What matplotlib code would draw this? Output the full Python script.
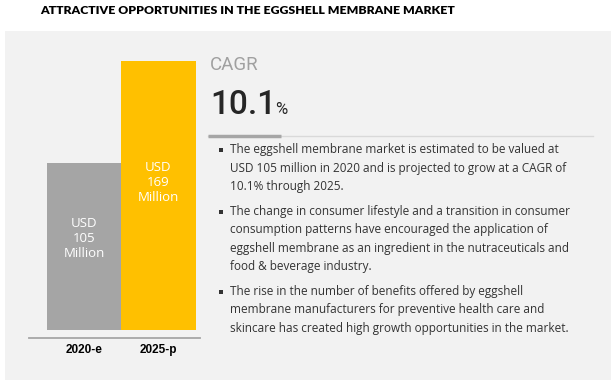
import matplotlib
matplotlib.use("Agg")
import matplotlib.pyplot as plt
from matplotlib.patches import Rectangle
from matplotlib.lines import Line2D

W, H = 612, 383

title = "ATTRACTIVE OPPORTUNITIES IN THE EGGSHELL MEMBRANE MARKET"
categories = ["2020-e", "2025-p"]
values = [105, 169]
bar_labels = ["USD\n105\nMillion", "USD\n169\nMillion"]
bar_colors = ["#A5A5A5", "#FFC000"]
cagr_label = "CAGR"
cagr_value = "10.1"
bullets = [
    ["The eggshell membrane market is estimated to be valued at",
     "USD 105 million in 2020 and is projected to grow at a CAGR of",
     "10.1% through 2025."],
    ["The change in consumer lifestyle and a transition in consumer",
     "consumption patterns have encouraged the application of",
     "eggshell membrane as an ingredient in the nutraceuticals and",
     "food & beverage industry."],
    ["The rise in the number of benefits offered by eggshell",
     "membrane manufacturers for preventive health care and",
     "skincare has created high growth opportunities in the market."],
]

def fx(x):
    return x / W

def fy(y):
    return 1 - y / H

fig = plt.figure(figsize=(W / 100, H / 100), dpi=100)
fig.patch.set_facecolor("white")

# background panel
fig.add_artist(Rectangle((fx(5), fy(380)), fx(606), (380 - 31) / H,
                         transform=fig.transFigure, facecolor="#F2F2F2",
                         edgecolor="none", zorder=-5))

fig.text(fx(247.5), fy(11), title, ha="center", va="center",
         fontsize=8.8, fontweight="heavy", family="Lato", color="#000000")

# bar axes
ax = fig.add_axes([fx(29), fy(338), fx(200) - fx(29), (338 - 50) / H])
ax.set_zorder(2)
ax.patch.set_alpha(0)
xs = list(range(len(values)))
ax.bar(xs, values, width=1.0, color=bar_colors, zorder=2)
ax.set_xlim(-0.74, 1.56)
ax.set_ylim(-5, 176)
for s in ["top", "right", "left"]:
    ax.spines[s].set_visible(False)
ax.spines["bottom"].set_color("#A6A6A6")
ax.spines["bottom"].set_linewidth(1.3)
ax.set_yticks([])
ax.set_xticks(xs)
ax.set_xticklabels(categories, fontsize=8.5, fontweight="bold",
                   family="Liberation Sans", color="#000000")
ax.tick_params(axis="x", length=0, pad=4)
for x, v, lab in zip(xs, values, bar_labels):
    ax.text(x, v * 0.55, lab, ha="center", va="center", color="white",
            fontsize=9.5, family="Open Sans", linespacing=1.2)

# CAGR block
fig.text(fx(210), fy(65), cagr_label, ha="left", va="center",
         fontsize=13.5, family="Roboto", color="#A0A0A0")
t = fig.text(fx(210), fy(114), cagr_value, ha="left", va="baseline",
             fontsize=24, family="Roboto", fontweight="medium", color="#262626")
fig.canvas.draw()
bb = t.get_window_extent()
fig.text(bb.x1 / W - fx(1), fy(114), "%", ha="left", va="baseline",
         fontsize=12, family="Roboto", color="#262626")

# separator
fig.add_artist(Line2D([fx(208), fx(593)], [fy(135.7), fy(135.7)],
                      transform=fig.transFigure, color="#D9D9D9", lw=1))
fig.add_artist(Line2D([fx(208), fx(281)], [fy(135.7), fy(135.7)],
                      transform=fig.transFigure, color="#A6A6A6", lw=2.5,
                      solid_capstyle="butt"))

# bullets
starts = [150, 211.7, 291.7]
step = 18.3
for start, lines in zip(starts, bullets):
    fig.add_artist(Rectangle((fx(219), fy(start + 2)), 4 / W, 4 / H,
                             transform=fig.transFigure, facecolor="#333333",
                             edgecolor="none"))
    for i, line in enumerate(lines):
        fig.text(fx(230.5), fy(start + i * step), line, ha="left", va="center",
                 fontsize=8.45, family="Open Sans", color="#333333")

fig.savefig("out.png", dpi=100, facecolor="white")
